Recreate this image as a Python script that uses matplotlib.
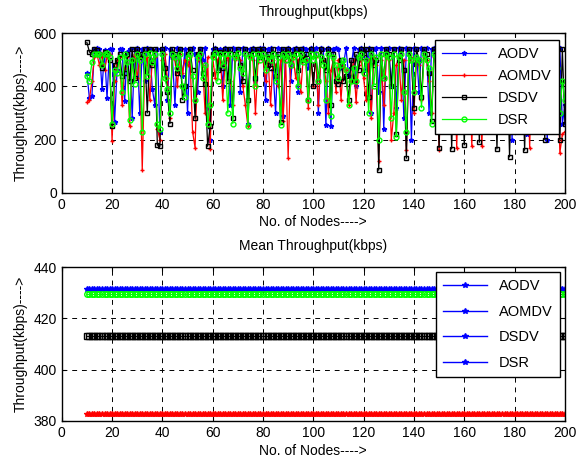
import matplotlib
matplotlib.use("Agg")
import matplotlib.pyplot as plt
from matplotlib.lines import Line2D

plt.rcParams['font.family'] = ['Liberation Sans', 'DejaVu Sans']

# numero de nos (10 a 200)
nos = list(range(10, 201))

# throughput (kbps), um valor por no
aodv = [450, 355, 365, 540, 545, 540, 390, 535, 355, 540,
        540, 265, 460, 540, 540, 345, 530, 540, 280, 540,
        545, 300, 540, 420, 545, 540, 390, 330, 540, 230,
        540, 545, 350, 540, 510, 330, 545, 540, 440, 540,
        300, 540, 545, 520, 380, 540, 500, 545, 320, 200,
        540, 545, 470, 540, 400, 545, 540, 330, 545, 540,
        540, 380, 545, 540, 260, 540, 545, 420, 540, 545,
        545, 350, 540, 545, 460, 300, 545, 540, 290, 540,
        545, 420, 540, 545, 380, 540, 545, 540, 470, 545,
        540, 545, 300, 545, 540, 255, 545, 250, 540, 545,
        540, 470, 480, 545, 440, 470, 545, 400, 540, 545,
        540, 460, 545, 300, 540, 545, 380, 545, 240, 540,
        545, 400, 540, 320, 545, 540, 280, 545, 540, 200,
        545, 540, 380, 545, 540, 545, 300, 540, 545, 540,
        540, 370, 250, 545, 540, 350, 545, 230, 540, 545,
        540, 545, 380, 250, 540, 545, 260, 540, 545, 540,
        545, 540, 300, 545, 540, 545, 350, 540, 545, 200,
        540, 545, 320, 540, 545, 220, 540, 545, 380, 540,
        545, 540, 350, 200, 545, 540, 540, 400, 545, 260,
        330]
aomdv = [340, 350, 420, 510, 520, 480, 520, 460, 510, 520,
         195, 420, 500, 510, 330, 470, 510, 250, 500, 520,
         430, 510, 85, 480, 510, 350, 500, 510, 240, 200,
         500, 520, 430, 280, 510, 500, 400, 520, 450, 500,
         480, 510, 230, 170, 500, 520, 480, 300, 510, 165,
         510, 430, 500, 520, 350, 500, 510, 420, 330, 500,
         510, 500, 400, 330, 250, 510, 500, 300, 490, 510,
         500, 420, 510, 330, 500, 480, 400, 500, 270, 510,
         130, 500, 510, 430, 500, 380, 510, 500, 320, 510,
         400, 510, 330, 500, 500, 420, 300, 460, 500, 380,
         500, 350, 480, 460, 330, 420, 500, 340, 480, 500,
         430, 350, 500, 280, 510, 480, 120, 500, 330, 510,
         500, 200, 300, 480, 510, 350, 500, 160, 500, 510,
         300, 500, 480, 350, 510, 500, 420, 300, 510, 500,
         160, 500, 330, 510, 480, 300, 510, 170, 500, 510,
         350, 500, 510, 175, 500, 330, 510, 175, 500, 500,
         330, 510, 500, 240, 510, 500, 420, 510, 300, 500,
         510, 240, 500, 510, 330, 500, 170, 510, 500, 230,
         500, 510, 230, 500, 420, 510, 300, 500, 150, 220,
         230]
dsdv = [565, 530, 520, 540, 535, 520, 470, 530, 520, 500,
        250, 480, 500, 520, 440, 450, 520, 420, 540, 430,
        540, 510, 520, 540, 300, 540, 480, 540, 180, 175,
        540, 470, 380, 260, 540, 520, 450, 540, 350, 400,
        520, 540, 460, 280, 520, 540, 450, 410, 175, 250,
        520, 540, 460, 530, 470, 540, 420, 540, 280, 520,
        540, 480, 420, 540, 350, 520, 540, 430, 540, 510,
        540, 480, 520, 470, 540, 440, 520, 265, 540, 500,
        540, 480, 520, 540, 460, 540, 500, 520, 350, 540,
        400, 520, 420, 540, 500, 460, 540, 330, 520, 420,
        410, 500, 420, 440, 350, 500, 420, 520, 460, 540,
        510, 540, 360, 540, 480, 500, 85, 520, 430, 540,
        520, 400, 540, 220, 500, 540, 460, 130, 540, 500,
        320, 540, 500, 360, 540, 520, 450, 270, 540, 500,
        170, 540, 500, 460, 540, 165, 520, 540, 360, 540,
        180, 500, 540, 350, 500, 540, 190, 520, 500, 540,
        440, 540, 500, 165, 540, 520, 420, 540, 135, 500,
        540, 400, 540, 500, 160, 540, 480, 540, 500, 300,
        540, 520, 200, 540, 470, 540, 500, 300, 200, 540,
        260]
dsr = [440, 420, 490, 520, 520, 520, 480, 520, 525, 510,
       260, 460, 450, 510, 380, 520, 490, 275, 500, 410,
       520, 500, 230, 520, 440, 525, 490, 520, 260, 240,
       520, 430, 390, 300, 520, 510, 470, 520, 400, 360,
       510, 520, 440, 350, 510, 520, 430, 480, 260, 330,
       510, 525, 420, 520, 480, 520, 300, 520, 260, 510,
       525, 470, 450, 520, 250, 510, 520, 400, 520, 500,
       520, 460, 510, 500, 520, 420, 510, 255, 520, 500,
       520, 480, 510, 520, 400, 520, 490, 500, 350, 520,
       500, 520, 420, 510, 480, 350, 520, 290, 510, 480,
       430, 480, 500, 460, 330, 420, 470, 420, 510, 520,
       450, 500, 300, 520, 400, 510, 200, 520, 430, 520,
       510, 280, 520, 210, 510, 520, 380, 230, 520, 500,
       380, 510, 500, 320, 520, 500, 470, 260, 520, 510,
       400, 510, 450, 480, 520, 420, 510, 500, 400, 520,
       380, 500, 520, 410, 500, 520, 380, 510, 500, 520,
       440, 510, 500, 400, 520, 510, 440, 520, 380, 500,
       520, 430, 510, 500, 390, 520, 470, 510, 500, 400,
       520, 500, 380, 510, 460, 520, 500, 470, 300, 420,
       350]

protocolos = ['AODV', 'AOMDV', 'DSDV', 'DSR']
medias = [431.5, 382.5, 413, 429.5]

cores = ['#0000ff', '#ff0000', '#000000', '#00ff00']
marcadores = ['*', '+', 's', 'o']
marcadores_media = ['*', '*', 's', 'o']

fig = plt.figure(figsize=(5.77, 4.67), dpi=100)
ax1 = fig.add_axes([0.107, 0.587, 0.872, 0.342])
ax2 = fig.add_axes([0.107, 0.099, 0.872, 0.329])


def estilo_matlab(ax):
    ax.tick_params(direction='in', top=True, right=True, length=3,
                   labelsize=10, width=0.8)
    ax.grid(True, color='black', linestyle=(0, (5, 5)), linewidth=0.7)
    for s in ax.spines.values():
        s.set_linewidth(1.0)


# Grafico 1: throughput por no
series = [aodv, aomdv, dsdv, dsr]
for serie, nome, c, m in zip(series, protocolos, cores, marcadores):
    ax1.plot(nos, serie, color=c, marker=m, markersize=3.5, linewidth=0.9,
             markerfacecolor='none' if m in ('s', 'o') else c, label=nome)
ax1.set_xlim(0, 200)
ax1.set_ylim(0, 600)
ax1.set_xticks(range(0, 201, 20))
ax1.set_yticks([0, 200, 400, 600])
ax1.set_title('Throughput(kbps)', fontsize=10, pad=12)
ax1.set_xlabel('No. of Nodes---->', fontsize=10, labelpad=2)
ax1.set_ylabel('Throughput(kbps)---->', fontsize=10, labelpad=4)
estilo_matlab(ax1)
leg1 = ax1.legend(loc='upper right', bbox_to_anchor=(0.988, 0.96),
                  fontsize=10.5, handlelength=3.0, labelspacing=0.55,
                  fancybox=False, framealpha=1, edgecolor='black',
                  borderpad=0.5, borderaxespad=0)
leg1.get_frame().set_linewidth(1.0)

# Grafico 2: media do throughput
for media, c, m in zip(medias, cores, marcadores_media):
    ax2.plot(nos, [media] * len(nos), color=c, marker=m, markersize=4,
             linewidth=1, markerfacecolor='none' if m in ('s', 'o') else c)
ax2.set_xlim(0, 200)
ax2.set_ylim(380, 440)
ax2.set_xticks(range(0, 201, 20))
ax2.set_yticks([380, 400, 420, 440])
ax2.set_title('Mean Throughput(kbps)', fontsize=10, pad=12)
ax2.set_xlabel('No. of Nodes---->', fontsize=10, labelpad=3)
ax2.set_ylabel('Throughput(kbps)---->', fontsize=10, labelpad=4)
estilo_matlab(ax2)
# a legenda original mostra todas as entradas com o estilo da primeira
alcas = [Line2D([], [], color='#0000ff', marker='*', markersize=4,
                linewidth=1) for _ in protocolos]
leg2 = ax2.legend(alcas, protocolos, loc='upper right',
                  bbox_to_anchor=(0.99, 0.97), fontsize=10.5,
                  handlelength=3.0, labelspacing=0.8, fancybox=False,
                  framealpha=1, edgecolor='black', borderpad=0.5,
                  borderaxespad=0)
leg2.get_frame().set_linewidth(1.0)

fig.savefig('out.png', dpi=100)
